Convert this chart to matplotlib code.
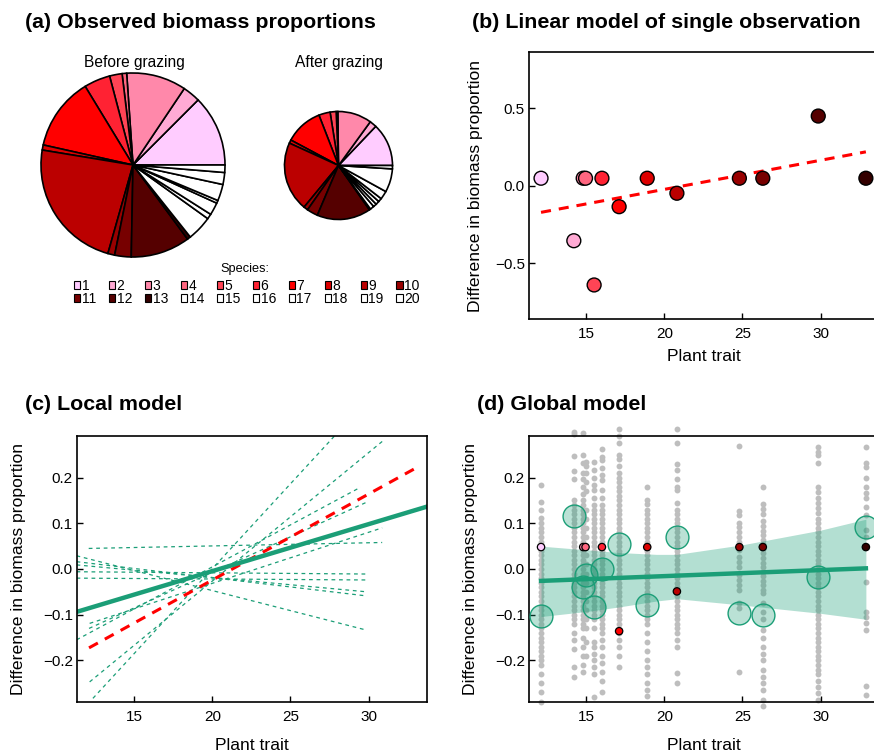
import numpy as np
import matplotlib
matplotlib.use('Agg')
from matplotlib import pyplot as plt
from matplotlib.patches import Patch

plt.rcParams['font.family'] = ['Liberation Sans', 'DejaVu Sans']

W, H = 874, 754
GREEN = '#1B9E77'

# species colours (13 grazed species ramp pink -> red -> almost black, 7 others white)
species = [str(i) for i in range(1, 21)]
species_colors = ['#FFCCFF', '#FFAAD4', '#FF88AA', '#FF6680', '#FF4455', '#FF2233', '#FF0000',
                  '#DD0000', '#BB0000', '#990000', '#770000', '#550000', '#330000'] + ['#FFFFFF'] * 7

# observed biomass proportions
before = [0.125, 0.031, 0.105, 0.008, 0.022, 0.046, 0.128, 0.009, 0.232, 0.012,
          0.029, 0.104, 0.006, 0.044, 0.009, 0.022, 0.005, 0.029, 0.021, 0.013]
after = [0.129, 0.021, 0.102, 0.005, 0.018, 0.034, 0.113, 0.010, 0.208, 0.013,
         0.033, 0.161, 0.004, 0.012, 0.010, 0.011, 0.011, 0.025, 0.070, 0.010]

# plant trait of species 1-13 and observed difference
trait = [12.1, 14.2, 14.8, 14.95, 15.5, 16.0, 17.1, 18.9, 20.8, 24.8, 26.3, 29.85, 32.9]
diff_obs = [0.048, -0.356, 0.048, 0.048, -0.642, 0.048, -0.136, 0.048, -0.049, 0.048, 0.048, 0.45, 0.048]
fit_single = (-0.400, 0.0188)   # intercept, slope

# local model: one fitted line per community
local_x0 = [12.08, 11.3, 11.3, 11.3, 11.3, 11.3, 12.14, 11.3, 12.1, 12.14, 12.35]
local_x1 = [30.87, 29.9, 29.9, 29.9, 29.9, 29.9, 30.87, 29.49, 29.8, 30.87, 30.0]
local_y0 = [0.045, 0.029, 0.016, 0.009, -0.006, -0.020, -0.119, -0.155, -0.130, -0.247, -0.283]
local_y1 = [0.058, -0.134, -0.059, -0.050, -0.011, -0.024, 0.090, 0.179, 0.145, 0.279, 0.372]
fit_local = (-0.210, 0.01027)

# global model
fit_global = (-0.042, 0.00132)
band_x = [12.1, 15.0, 17.1, 19.5, 20.8, 25.0, 30.0, 32.9]
band_lo = [-0.104, -0.093, -0.083, -0.070, -0.065, -0.079, -0.097, -0.110]
band_hi = [0.050, 0.042, 0.036, 0.032, 0.032, 0.053, 0.085, 0.109]
global_y = [-0.103, 0.117, -0.039, -0.013, -0.084, 0.0, 0.054, -0.079, 0.069, -0.096, -0.101, -0.018, 0.091]

# simulated differences per species (grey)
gray = [
    [0.184, 0.147, 0.129, 0.111, 0.10, 0.09, 0.08, 0.07, 0.06, 0.05, 0.04, 0.03, 0.02, 0.01, 0.00,
     -0.01, -0.02, -0.03, -0.04, -0.05, -0.06, -0.07, -0.08, -0.09, -0.10, -0.11, -0.12, -0.13, -0.14,
     -0.15, -0.16, -0.17, -0.18, -0.19, -0.20, -0.21, -0.23, -0.25, -0.27, -0.29],
    [0.30, 0.295, 0.248, 0.215, 0.198, 0.15, 0.14, 0.13, 0.12, 0.11, 0.10, 0.09, 0.08, 0.07, 0.06,
     0.05, 0.04, 0.03, 0.02, 0.01, 0.00, -0.01, -0.02, -0.03, -0.04, -0.05, -0.06, -0.07, -0.08, -0.09,
     -0.10, -0.11, -0.12, -0.14, -0.155, -0.175, -0.214, -0.236],
    [0.297, 0.25, 0.231, 0.21, 0.196, 0.18, 0.165, 0.15, 0.14, 0.13, 0.12, 0.11, 0.10, 0.09, 0.08, 0.07,
     0.06, 0.05, 0.04, 0.03, 0.02, 0.01, 0.00, -0.01, -0.02, -0.03, -0.04, -0.05, -0.06, -0.07, -0.08,
     -0.09, -0.10, -0.11, -0.12, -0.13, -0.15, -0.17, -0.19, -0.21, -0.225],
    [0.235, 0.226, 0.21, 0.19, 0.17, 0.13, 0.11, 0.09, 0.07, 0.05, 0.03, 0.01, -0.01, -0.03, -0.05,
     -0.07, -0.09, -0.11, -0.13, -0.16, -0.19],
    [0.235, 0.217, 0.20, 0.184, 0.172, 0.155, 0.14, 0.13, 0.12, 0.11, 0.10, 0.09, 0.08, 0.07, 0.06, 0.05,
     0.04, 0.03, 0.02, 0.01, 0.00, -0.01, -0.02, -0.03, -0.04, -0.05, -0.06, -0.07, -0.08, -0.09, -0.10,
     -0.11, -0.13, -0.16, -0.17, -0.185, -0.20, -0.215, -0.23, -0.28],
    [0.262, 0.246, 0.238, 0.22, 0.205, 0.195, 0.172, 0.155, 0.14, 0.13, 0.12, 0.11, 0.10, 0.09, 0.08,
     0.07, 0.06, 0.05, 0.04, 0.03, 0.02, 0.01, 0.00, -0.01, -0.02, -0.03, -0.04, -0.05, -0.06, -0.07,
     -0.08, -0.09, -0.10, -0.11, -0.12, -0.13, -0.14, -0.155, -0.17, -0.19, -0.205, -0.225, -0.245, -0.27],
    [0.306, 0.29, 0.275, 0.25, 0.24, 0.225, 0.21, 0.20, 0.19, 0.18, 0.17, 0.16, 0.15, 0.14, 0.13, 0.12,
     0.11, 0.10, 0.09, 0.08, 0.07, 0.06, 0.05, 0.04, 0.03, 0.02, 0.01, 0.00, -0.01, -0.02, -0.03, -0.04,
     -0.05, -0.06, -0.07, -0.08, -0.09, -0.10, -0.11, -0.12, -0.14, -0.155, -0.17, -0.19, -0.214],
    [0.18, 0.151, 0.142, 0.13, 0.12, 0.11, 0.10, 0.09, 0.08, 0.07, 0.06, 0.05, 0.04, 0.03, 0.02, 0.01,
     0.00, -0.01, -0.02, -0.03, -0.04, -0.05, -0.06, -0.07, -0.08, -0.09, -0.10, -0.11, -0.12, -0.14,
     -0.16, -0.18, -0.20, -0.215, -0.23, -0.25, -0.265, -0.278],
    [0.306, 0.275, 0.23, 0.217, 0.198, 0.18, 0.172, 0.144, 0.13, 0.12, 0.11, 0.10, 0.09, 0.08, 0.07,
     0.06, 0.05, 0.04, 0.03, 0.02, 0.01, 0.00, -0.01, -0.02, -0.03, -0.04, -0.05, -0.06, -0.07, -0.08,
     -0.09, -0.10, -0.11, -0.12, -0.13, -0.14, -0.155, -0.17, -0.228, -0.249],
    [0.27, 0.126, 0.118, 0.10, 0.092, 0.082, 0.071, 0.06, 0.042, 0.027, 0.016, 0.005, -0.013, -0.024,
     -0.035, -0.046, -0.075, -0.086, -0.225],
    [0.18, 0.143, 0.132, 0.12, 0.104, 0.094, 0.084, 0.074, 0.064, 0.054, 0.044, 0.034, 0.024, 0.014,
     0.004, -0.006, -0.016, -0.026, -0.036, -0.046, -0.053, -0.075, -0.093, -0.11, -0.133, -0.152,
     -0.17, -0.185, -0.20, -0.221, -0.236, -0.25, -0.264, -0.287, -0.30],
    [0.268, 0.257, 0.25, 0.231, 0.18, 0.169, 0.155, 0.144, 0.133, 0.122, 0.11, 0.10, 0.09, 0.08, 0.07,
     0.06, 0.05, 0.04, 0.03, 0.02, 0.01, 0.00, -0.01, -0.02, -0.03, -0.04, -0.05, -0.06, -0.07, -0.08,
     -0.09, -0.10, -0.11, -0.12, -0.13, -0.14, -0.15, -0.16, -0.17, -0.18, -0.19, -0.20, -0.21, -0.22,
     -0.23, -0.245, -0.258, -0.272, -0.287],
    [0.268, 0.231, 0.224, 0.199, 0.18, 0.166, 0.155, 0.136, 0.118, 0.085, 0.071, -0.028, -0.093,
     -0.104, -0.119, -0.134, -0.255, -0.276],
]

fig = plt.figure(figsize=(W / 100, H / 100), dpi=100)


def px_axes(left, top, width, height):
    return fig.add_axes([left / W, (H - top - height) / H, width / W, height / H])


def style(ax, yticks, ylim):
    ax.set_xlim(11.33, 33.74)
    ax.set_ylim(*ylim)
    ax.set_xticks([15, 20, 25, 30])
    ax.set_yticks(yticks, [f'{v:.1f}'.replace('-', '\u2212') for v in yticks])
    ax.tick_params(direction='in', length=4.5, width=1, labelsize=11)
    ax.tick_params(axis='x', pad=6)
    ax.tick_params(axis='y', pad=3)
    for s in ax.spines.values():
        s.set_linewidth(1.2)
    ax.set_xlabel('Plant trait', fontsize=12.6, va='center')
    ax.set_ylabel('Difference in biomass proportion', fontsize=12.6, va='center')


TITLE = dict(fontsize=15.4, fontweight='bold', va='center')

# ---- (a) pies
fig.text(25 / W, 1 - 22 / H, '(a) Observed biomass proportions', **TITLE)
r_before, r_after = 92, 54
ax_p1 = px_axes(133 - 1.25 * r_before, 165 - 1.25 * r_before, 2.5 * r_before, 2.5 * r_before)
ax_p1.pie(before, colors=species_colors, startangle=0, counterclock=True,
          wedgeprops=dict(edgecolor='black', linewidth=1.2))
ax_p2 = px_axes(338.5 - 1.25 * r_after, 165.5 - 1.25 * r_after, 2.5 * r_after, 2.5 * r_after)
ax_p2.pie(after, colors=species_colors, startangle=0, counterclock=True,
          wedgeprops=dict(edgecolor='black', linewidth=1.2))
fig.text(134 / W, 1 - 62 / H, 'Before grazing', fontsize=11.2, ha='center', va='center')
fig.text(339 / W, 1 - 62 / H, 'After grazing', fontsize=11.2, ha='center', va='center')

fig.text(245 / W, 1 - 269 / H, 'Species:', fontsize=9.2, ha='center', va='center')
handles = [Patch(facecolor=c, edgecolor='black', linewidth=0.8) for c in species_colors]
order = [i for pair in zip(range(10), range(10, 20)) for i in pair]
fig.legend([handles[i] for i in order], [species[i] for i in order], ncol=10, loc='center',
           bbox_to_anchor=(247 / W, 1 - 292.5 / H), frameon=False, fontsize=10,
           handlelength=0.45, handleheight=0.45, handletextpad=0.1, columnspacing=0.93,
           labelspacing=-0.05, borderpad=0, borderaxespad=0)

# ---- (b) single observation
fig.text(472 / W, 1 - 22 / H, '(b) Linear model of single observation', **TITLE)
ax_b = px_axes(529, 52, 350, 267)
xs = np.array([min(trait), max(trait)])
ax_b.plot(xs, fit_single[0] + fit_single[1] * xs, color='red', lw=2.2, dashes=(3.3, 2.6), zorder=2)
ax_b.scatter(trait, diff_obs, s=100, c=species_colors[:13], edgecolors='black', linewidths=1, zorder=3)
style(ax_b, [-0.5, 0.0, 0.5], (-0.862, 0.864))
ax_b.xaxis.set_label_coords(0.5, -0.142)
ax_b.yaxis.set_label_coords(-0.154, 0.5)

# ---- (c) local model
fig.text(25 / W, 1 - 405 / H, '(c) Local model', **TITLE)
ax_c = px_axes(77, 436, 350, 266)
for x0, x1, y0, y1 in zip(local_x0, local_x1, local_y0, local_y1):
    ax_c.plot([x0, x1], [y0, y1], color=GREEN, lw=0.9, dashes=(3, 3))
ax_c.plot(xs, fit_single[0] + fit_single[1] * xs, color='red', lw=2.2, dashes=(3.3, 2.6))
ax_c.axline((0, fit_local[0]), slope=fit_local[1], color=GREEN, lw=3.2)
style(ax_c, [-0.2, -0.1, 0.0, 0.1, 0.2], (-0.291, 0.291))
ax_c.xaxis.set_label_coords(0.5, -0.162)
ax_c.yaxis.set_label_coords(-0.166, 0.5)

# ---- (d) global model
fig.text(477 / W, 1 - 405 / H, '(d) Global model', **TITLE)
ax_d = px_axes(529, 436, 350, 266)
for t, ys in zip(trait, gray):
    ax_d.scatter([t] * len(ys), ys, s=18, color='#BEBEBE', linewidths=0, clip_on=False, zorder=1)
ax_d.fill_between(band_x, band_lo, band_hi, color=GREEN, alpha=0.33, linewidth=0, zorder=2)
ax_d.scatter(trait, global_y, s=270, facecolors=(27 / 255, 158 / 255, 119 / 255, 0.3),
             edgecolors=GREEN, linewidths=1, zorder=3)
ax_d.plot(xs, fit_global[0] + fit_global[1] * xs, color=GREEN, lw=3.2, zorder=4)
ax_d.scatter(trait, diff_obs, s=28, c=species_colors[:13], edgecolors='black', linewidths=0.9, zorder=5)
style(ax_d, [-0.2, -0.1, 0.0, 0.1, 0.2], (-0.291, 0.291))
ax_d.xaxis.set_label_coords(0.5, -0.165)
ax_d.yaxis.set_label_coords(-0.167, 0.5)

fig.savefig('out.png', dpi=100)
